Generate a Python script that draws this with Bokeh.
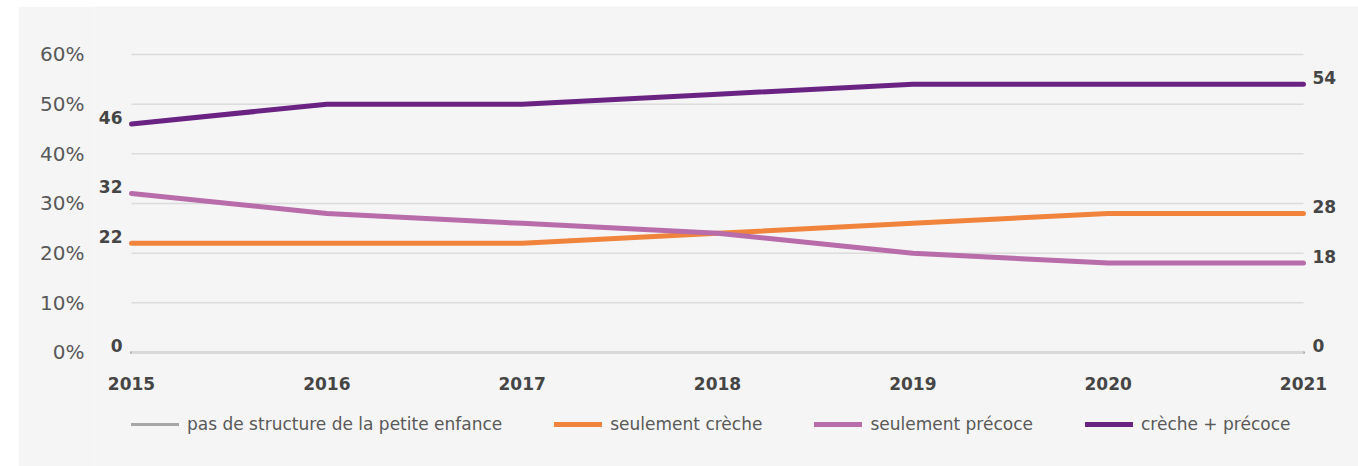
from bokeh.plotting import figure
from bokeh.models import ColumnDataSource, Legend, LegendItem, FixedTicker
from bokeh.embed import file_html
from bokeh.resources import INLINE
from bokeh.core.properties import value

years = [2015, 2016, 2017, 2018, 2019, 2020, 2021]
pas_de_structure = [0, 0, 0, 0, 0, 0, 0]
seulement_creche = [22, 22, 22, 24, 26, 28, 28]
seulement_precoce = [32, 28, 26, 24, 20, 18, 18]
creche_precoce = [46, 50, 50, 52, 54, 54, 54]

series_names = ["pas de structure de la petite enfance", "seulement crèche",
                "seulement précoce", "crèche + précoce"]
series_values = [pas_de_structure, seulement_creche, seulement_precoce, creche_precoce]
colors = ["#a6a6a6", "#f0843c", "#b86caa", "#6a2383"]

y_ticks = [0, 10, 20, 30, 40, 50, 60]
y_tick_labels = ["0%", "10%", "20%", "30%", "40%", "50%", "60%"]
year_labels = [str(y) for y in years]

BG = "#f5f5f5"
FONT = "DejaVu Sans"

# frame covers the whole figure except the y-axis panel, so that labels and legend are not clipped
p = figure(width=1340, height=460, x_range=(2014.8106, 2021.2816), y_range=(-22.953, 69.664),
           output_backend="svg", toolbar_location=None,
           min_border_left=76, min_border_right=0, min_border_top=0, min_border_bottom=0,
           background_fill_color=BG, border_fill_color=BG, outline_line_color=None)
p.margin = (6, 0, 0, 18)

p.xgrid.grid_line_color = None
p.ygrid.grid_line_color = None
p.xaxis.visible = False

p.yaxis.ticker = FixedTicker(ticks=y_ticks)
p.yaxis.major_label_overrides = {t: l for t, l in zip(y_ticks, y_tick_labels)}
p.yaxis.axis_line_color = None
p.yaxis.major_tick_line_color = None
p.yaxis.minor_tick_line_color = None
p.yaxis.major_label_text_font = FONT
p.yaxis.major_label_standoff = 4
p.yaxis.major_label_text_font_size = "20px"
p.yaxis.major_label_text_color = "#595959"

# horizontal gridlines, spanning the years only
grid_src = ColumnDataSource(dict(x0=[years[0]] * len(y_ticks), x1=[years[-1]] * len(y_ticks),
                                 y=y_ticks))
p.segment(x0="x0", x1="x1", y0="y", y1="y", source=grid_src, line_color="#dcdcdc",
          line_width=1.5)

# year labels (x tick labels)
yl_src = ColumnDataSource(dict(x=years, y=[0] * len(years), t=year_labels))
p.text(x="x", y="y", text="t", source=yl_src, text_font=value(FONT), text_font_size="17px",
       text_font_style="bold", text_color="#454545", text_align="center",
       text_baseline="alphabetic", y_offset=31)

items = []
for i, (name, vals, col) in enumerate(zip(series_names, series_values, colors)):
    src = ColumnDataSource(dict(x=years, y=vals))
    lw = 3 if i == 0 else 5
    r = p.line("x", "y", source=src, line_color=col, line_width=lw, line_cap="round",
               line_join="round")
    items.append(LegendItem(label=name, renderers=[r]))
    if i == 0:
        base_src = ColumnDataSource(dict(x0=[years[0]], x1=[years[-1]], y=[y_ticks[0]]))
        p.segment(x0="x0", x1="x1", y0="y", y1="y", source=base_src,
                  line_color="#d9d9d9", line_width=3)

first_src = ColumnDataSource(dict(x=[years[0]] * 4, y=[v[0] for v in series_values],
                                  t=[str(v[0]) for v in series_values]))
last_src = ColumnDataSource(dict(x=[years[-1]] * 4, y=[v[-1] for v in series_values],
                                 t=[str(v[-1]) for v in series_values]))
lbl_kw = dict(text_font=value(FONT), text_font_size="17px", text_font_style="bold",
              text_color="#454545", text_baseline="alphabetic", y_offset=-7)
p.text(x="x", y="y", text="t", source=first_src, x_offset=-9, text_align="right", **lbl_kw)
p.text(x="x", y="y", text="t", source=last_src, x_offset=9, text_align="left", **lbl_kw)

legend = Legend(items=items, orientation="horizontal", location=(37, 32),
                border_line_color=None, background_fill_alpha=0,
                label_text_font=FONT, label_text_font_size="17px",
                label_text_color="#595959", glyph_width=48, glyph_height=20,
                label_standoff=8, spacing=52, padding=0, margin=0)
p.add_layout(legend)

open("out.html", "w").write(file_html(p, INLINE))
